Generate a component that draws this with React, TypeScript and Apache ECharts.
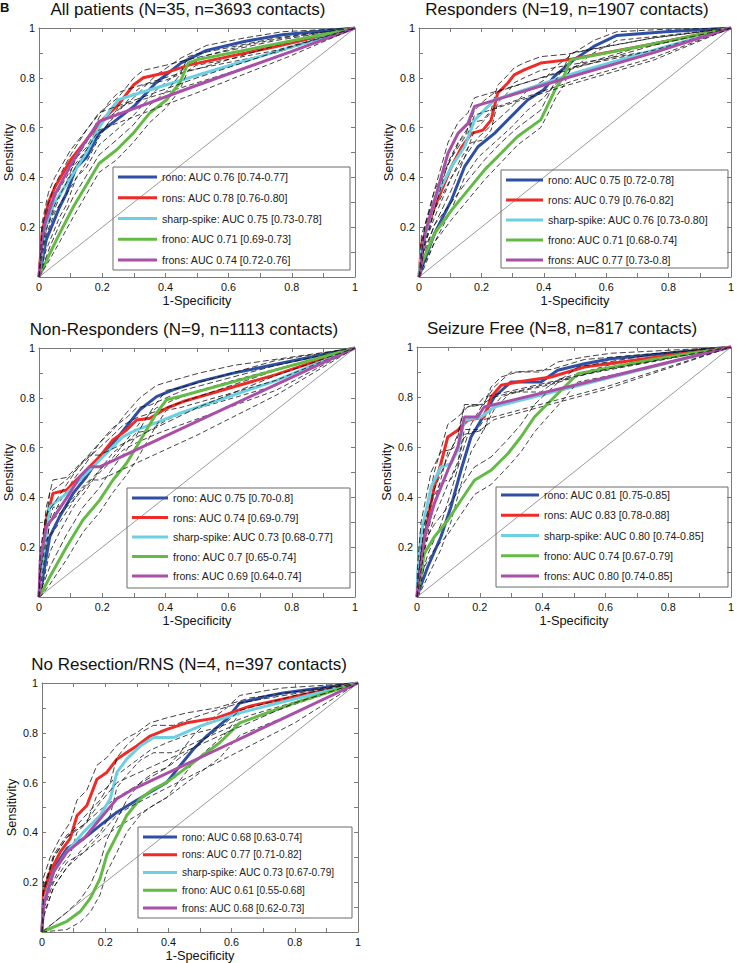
import React, { useEffect, useRef } from "react";
import * as echarts from "echarts";

const FONT = "'Liberation Sans', Arial, Helvetica, sans-serif";

// ---------- labels ----------
const panelTitles = [
  "All patients (N=35, n=3693 contacts)",
  "Responders (N=19, n=1907 contacts)",
  "Non-Responders (N=9, n=1113 contacts)",
  "Seizure Free (N=8, n=817 contacts)",
  "No Resection/RNS (N=4, n=397 contacts)",
];
const curveNames = ["rono", "rons", "sharp-spike", "frono", "frons"];
const curveColors = ["#2e4fa3", "#ee2b27", "#6dcfe2", "#63bb46", "#a94fa7"];

const aucAll = ["AUC 0.76 [0.74-0.77]", "AUC 0.78 [0.76-0.80]", "AUC 0.75 [0.73-0.78]", "AUC 0.71 [0.69-0.73]", "AUC 0.74 [0.72-0.76]"];
const aucResp = ["AUC 0.75 [0.72-0.78]", "AUC 0.79 [0.76-0.82]", "AUC 0.76 [0.73-0.80]", "AUC 0.71 [0.68-0.74]", "AUC 0.77 [0.73-0.8]"];
const aucNonResp = ["AUC 0.75 [0.70-0.8]", "AUC 0.74 [0.69-0.79]", "AUC 0.73 [0.68-0.77]", "AUC 0.7 [0.65-0.74]", "AUC 0.69 [0.64-0.74]"];
const aucSzFree = ["AUC 0.81 [0.75-0.85]", "AUC 0.83 [0.78-0.88]", "AUC 0.80 [0.74-0.85]", "AUC 0.74 [0.67-0.79]", "AUC 0.80 [0.74-0.85]"];
const aucNoRes = ["AUC 0.68 [0.63-0.74]", "AUC 0.77 [0.71-0.82]", "AUC 0.73 [0.67-0.79]", "AUC 0.61 [0.55-0.68]", "AUC 0.68 [0.62-0.73]"];

const chanceLine = [[0, 0], [1, 1]];

// ---------- ROC data: [1-specificity, sensitivity, lower CI, upper CI] ----------
type Pt = [number, number, number, number];

// All patients
const allRono: Pt[] = [[0,0,0,0],[0.023,0.15,0.11,0.19],[0.065,0.28,0.24,0.32],[0.087,0.336,0.29,0.38],[0.118,0.44,0.40,0.48],[0.15,0.48,0.44,0.52],[0.19,0.577,0.53,0.61],[0.30,0.685,0.65,0.72],[0.37,0.78,0.75,0.81],[0.45,0.86,0.83,0.88],[0.53,0.91,0.89,0.93],[0.65,0.946,0.93,0.96],[0.77,0.973,0.96,0.985],[1,1,1,1]];
const allRons: Pt[] = [[0,0,0,0],[0.01,0.18,0.14,0.22],[0.03,0.30,0.26,0.34],[0.05,0.36,0.32,0.40],[0.10,0.47,0.43,0.51],[0.15,0.55,0.51,0.59],[0.20,0.63,0.59,0.67],[0.25,0.69,0.66,0.72],[0.30,0.772,0.74,0.80],[0.33,0.80,0.77,0.83],[0.40,0.82,0.79,0.85],[0.477,0.852,0.83,0.875],[0.75,0.926,0.90,0.95],[1,1,1,1]];
const allSharp: Pt[] = [[0,0,0,0],[0.02,0.2,0.16,0.24],[0.05,0.3,0.26,0.34],[0.10,0.40,0.36,0.44],[0.15,0.50,0.46,0.54],[0.19,0.60,0.56,0.64],[0.22,0.66,0.62,0.70],[0.25,0.71,0.68,0.74],[0.27,0.72,0.69,0.75],[0.45,0.79,0.76,0.82],[0.5,0.81,0.78,0.835],[0.75,0.905,0.88,0.93],[1,1,1,1]];
const allFrono: Pt[] = [[0,0,0,0],[0.034,0.094,0.07,0.12],[0.065,0.174,0.14,0.21],[0.108,0.28,0.24,0.32],[0.19,0.456,0.42,0.49],[0.245,0.51,0.47,0.55],[0.298,0.577,0.54,0.61],[0.35,0.658,0.62,0.69],[0.403,0.711,0.68,0.745],[0.445,0.779,0.75,0.81],[0.472,0.859,0.83,0.885],[0.498,0.872,0.85,0.895],[0.75,0.936,0.91,0.96],[1,1,1,1]];
const allFrons: Pt[] = [[0,0,0,0],[0.01,0.15,0.11,0.19],[0.02,0.22,0.18,0.26],[0.05,0.33,0.29,0.37],[0.10,0.45,0.41,0.49],[0.15,0.55,0.51,0.59],[0.19,0.625,0.59,0.66],[0.5,0.77,0.74,0.80],[0.8,0.906,0.89,0.925],[1,1,1,1]];

// Responders
const respRono: Pt[] = [[0,0,0,0],[0.014,0.054,0.03,0.08],[0.05,0.175,0.14,0.21],[0.104,0.309,0.27,0.35],[0.146,0.443,0.40,0.48],[0.189,0.523,0.48,0.56],[0.242,0.577,0.54,0.62],[0.295,0.644,0.60,0.68],[0.348,0.711,0.67,0.75],[0.40,0.752,0.72,0.79],[0.433,0.805,0.77,0.84],[0.496,0.872,0.84,0.90],[0.56,0.926,0.90,0.95],[0.634,0.97,0.95,0.985],[0.79,0.985,0.97,0.995],[1,1,1,1]];
const respRons: Pt[] = [[0,0,0,0],[0.008,0.134,0.10,0.17],[0.05,0.28,0.24,0.32],[0.104,0.443,0.40,0.48],[0.136,0.52,0.48,0.56],[0.168,0.577,0.54,0.62],[0.205,0.59,0.55,0.63],[0.231,0.63,0.59,0.67],[0.252,0.738,0.70,0.77],[0.284,0.778,0.74,0.81],[0.305,0.812,0.78,0.84],[0.337,0.832,0.80,0.86],[0.39,0.859,0.83,0.885],[0.475,0.872,0.85,0.895],[0.75,0.936,0.91,0.96],[1,1,1,1]];
const respSharp: Pt[] = [[0,0,0,0],[0.008,0.107,0.07,0.14],[0.05,0.309,0.27,0.35],[0.104,0.443,0.40,0.48],[0.146,0.523,0.48,0.56],[0.178,0.63,0.59,0.67],[0.21,0.671,0.63,0.71],[0.242,0.711,0.68,0.74],[0.5,0.82,0.79,0.845],[0.75,0.91,0.88,0.94],[1,1,1,1]];
const respFrono: Pt[] = [[0,0,0,0],[0.008,0.054,0.03,0.08],[0.05,0.175,0.14,0.21],[0.104,0.268,0.23,0.30],[0.157,0.349,0.31,0.39],[0.21,0.43,0.39,0.47],[0.263,0.497,0.46,0.54],[0.316,0.564,0.53,0.60],[0.39,0.631,0.60,0.67],[0.411,0.685,0.65,0.72],[0.438,0.758,0.72,0.79],[0.464,0.805,0.77,0.84],[0.486,0.872,0.84,0.90],[0.75,0.936,0.91,0.96],[1,1,1,1]];
const respFrons: Pt[] = [[0,0,0,0],[0.003,0.013,0.005,0.03],[0.019,0.175,0.14,0.21],[0.05,0.309,0.27,0.35],[0.093,0.497,0.46,0.54],[0.125,0.577,0.54,0.62],[0.157,0.617,0.58,0.66],[0.178,0.685,0.65,0.72],[0.475,0.80,0.77,0.83],[0.75,0.90,0.87,0.93],[1,1,1,1]];

// Non-responders
const nonRono: Pt[] = [[0,0,0,0],[0.007,0.04,0.02,0.07],[0.034,0.242,0.18,0.30],[0.065,0.322,0.26,0.38],[0.108,0.416,0.36,0.47],[0.15,0.483,0.43,0.54],[0.192,0.564,0.51,0.62],[0.234,0.617,0.56,0.67],[0.277,0.685,0.63,0.74],[0.319,0.752,0.70,0.80],[0.372,0.805,0.76,0.85],[0.424,0.832,0.79,0.87],[0.509,0.866,0.83,0.90],[0.615,0.899,0.87,0.93],[1,1,1,1]];
const nonRons: Pt[] = [[0,0,0,0],[0.007,0.134,0.09,0.18],[0.023,0.309,0.25,0.36],[0.044,0.416,0.36,0.47],[0.087,0.43,0.37,0.48],[0.118,0.47,0.41,0.52],[0.15,0.51,0.45,0.56],[0.192,0.564,0.51,0.62],[0.234,0.631,0.58,0.68],[0.277,0.671,0.62,0.72],[0.309,0.711,0.66,0.76],[0.351,0.718,0.67,0.77],[0.403,0.758,0.71,0.80],[0.456,0.785,0.74,0.83],[0.75,0.893,0.85,0.93],[1,1,1,1]];
const nonSharp: Pt[] = [[0,0,0,0],[0.007,0.094,0.06,0.13],[0.034,0.362,0.30,0.42],[0.087,0.416,0.36,0.47],[0.139,0.483,0.43,0.54],[0.192,0.55,0.50,0.60],[0.234,0.604,0.55,0.65],[0.266,0.644,0.59,0.69],[0.309,0.671,0.62,0.72],[0.382,0.705,0.66,0.75],[0.446,0.738,0.69,0.78],[0.75,0.869,0.83,0.91],[1,1,1,1]];
const nonFrono: Pt[] = [[0,0,0,0],[0.007,0.013,0.005,0.03],[0.034,0.08,0.05,0.12],[0.087,0.201,0.15,0.25],[0.139,0.309,0.26,0.36],[0.192,0.389,0.34,0.44],[0.234,0.47,0.42,0.52],[0.277,0.537,0.49,0.59],[0.309,0.604,0.55,0.65],[0.34,0.671,0.62,0.72],[0.372,0.738,0.69,0.78],[0.403,0.792,0.75,0.83],[0.446,0.805,0.76,0.84],[0.75,0.912,0.87,0.95],[1,1,1,1]];
const nonFrons: Pt[] = [[0,0,0,0],[0.004,0.148,0.10,0.19],[0.023,0.282,0.23,0.33],[0.055,0.336,0.28,0.39],[0.097,0.416,0.36,0.47],[0.129,0.483,0.43,0.53],[0.16,0.523,0.47,0.57],[0.192,0.523,0.47,0.57],[0.5,0.705,0.65,0.76],[0.75,0.853,0.81,0.89],[1,1,1,1]];

// Seizure free
const sfRono: Pt[] = [[0,0,0,0],[0.007,0.027,0.01,0.05],[0.034,0.12,0.08,0.17],[0.076,0.24,0.19,0.29],[0.108,0.36,0.30,0.42],[0.14,0.507,0.45,0.56],[0.172,0.64,0.58,0.69],[0.204,0.707,0.65,0.76],[0.246,0.80,0.75,0.84],[0.299,0.86,0.82,0.90],[0.395,0.86,0.82,0.90],[0.448,0.907,0.87,0.94],[0.533,0.933,0.90,0.96],[0.618,0.953,0.93,0.975],[1,1,1,1]];
const sfRons: Pt[] = [[0,0,0,0],[0.013,0.147,0.10,0.19],[0.034,0.307,0.25,0.36],[0.055,0.44,0.38,0.50],[0.076,0.533,0.47,0.59],[0.098,0.64,0.58,0.69],[0.13,0.667,0.61,0.72],[0.161,0.707,0.65,0.76],[0.214,0.72,0.67,0.77],[0.236,0.80,0.75,0.84],[0.268,0.847,0.80,0.88],[0.32,0.86,0.82,0.90],[0.427,0.88,0.85,0.91],[0.533,0.92,0.89,0.95],[1,1,1,1]];
const sfSharp: Pt[] = [[0,0,0,0],[0.002,0.093,0.06,0.13],[0.013,0.253,0.20,0.30],[0.045,0.44,0.38,0.50],[0.076,0.52,0.46,0.58],[0.108,0.533,0.47,0.59],[0.13,0.587,0.53,0.64],[0.151,0.707,0.65,0.76],[0.204,0.72,0.67,0.77],[0.246,0.76,0.71,0.80],[0.6,0.873,0.83,0.91],[1,1,1,1]];
const sfFrono: Pt[] = [[0,0,0,0],[0.007,0.04,0.02,0.07],[0.023,0.173,0.12,0.22],[0.055,0.24,0.19,0.29],[0.098,0.307,0.25,0.36],[0.14,0.387,0.33,0.44],[0.183,0.467,0.41,0.52],[0.236,0.507,0.45,0.56],[0.289,0.573,0.52,0.63],[0.331,0.64,0.58,0.69],[0.374,0.72,0.66,0.77],[0.416,0.773,0.72,0.82],[0.459,0.827,0.78,0.87],[0.512,0.893,0.86,0.92],[0.75,0.95,0.92,0.97],[1,1,1,1]];
const sfFrons: Pt[] = [[0,0,0,0],[0.002,0.027,0.01,0.05],[0.023,0.24,0.19,0.29],[0.055,0.373,0.32,0.43],[0.098,0.507,0.45,0.56],[0.13,0.60,0.54,0.65],[0.151,0.72,0.67,0.77],[0.193,0.72,0.67,0.77],[0.214,0.76,0.71,0.80],[0.6,0.877,0.84,0.91],[1,1,1,1]];

// No resection / RNS
const nrRono: Pt[] = [[0,0,0,0],[0.005,0.136,0.09,0.18],[0.037,0.255,0.20,0.31],[0.079,0.335,0.28,0.39],[0.132,0.375,0.32,0.43],[0.184,0.428,0.37,0.49],[0.237,0.481,0.42,0.54],[0.289,0.521,0.46,0.58],[0.342,0.561,0.50,0.62],[0.395,0.601,0.54,0.66],[0.437,0.668,0.61,0.72],[0.479,0.734,0.68,0.79],[0.521,0.787,0.73,0.84],[0.584,0.854,0.80,0.90],[0.626,0.92,0.88,0.95],[0.711,0.947,0.91,0.97],[0.763,0.96,0.93,0.98],[1,1,1,1]];
const nrRons: Pt[] = [[0,0,0,0],[0.005,0.162,0.10,0.22],[0.026,0.242,0.18,0.30],[0.058,0.322,0.26,0.38],[0.089,0.375,0.31,0.44],[0.111,0.468,0.40,0.53],[0.142,0.508,0.44,0.57],[0.174,0.614,0.55,0.67],[0.205,0.641,0.58,0.70],[0.237,0.694,0.63,0.75],[0.268,0.721,0.66,0.78],[0.30,0.747,0.69,0.80],[0.342,0.787,0.73,0.84],[0.395,0.814,0.76,0.86],[0.458,0.84,0.79,0.88],[0.553,0.86,0.82,0.90],[0.658,0.907,0.87,0.94],[1,1,1,1]];
const nrSharp: Pt[] = [[0,0,0,0],[0.005,0.122,0.07,0.17],[0.037,0.242,0.18,0.30],[0.079,0.322,0.26,0.38],[0.132,0.402,0.34,0.46],[0.184,0.468,0.40,0.53],[0.216,0.535,0.47,0.60],[0.237,0.641,0.58,0.70],[0.268,0.694,0.63,0.75],[0.311,0.747,0.69,0.80],[0.353,0.781,0.72,0.83],[0.416,0.781,0.72,0.83],[0.50,0.827,0.77,0.87],[0.626,0.88,0.84,0.92],[1,1,1,1]];
const nrFrono: Pt[] = [[0,0,0,0],[0.079,0.043,0.01,0.08],[0.121,0.082,0.04,0.13],[0.153,0.136,0.08,0.19],[0.184,0.215,0.15,0.28],[0.205,0.309,0.24,0.37],[0.237,0.388,0.32,0.45],[0.268,0.468,0.40,0.53],[0.311,0.535,0.47,0.60],[0.353,0.574,0.51,0.64],[0.395,0.601,0.54,0.66],[0.437,0.641,0.58,0.70],[0.479,0.681,0.62,0.74],[0.521,0.721,0.66,0.78],[0.563,0.761,0.70,0.82],[0.626,0.84,0.79,0.89],[0.8,0.92,0.88,0.95],[1,1,1,1]];
const nrFrons: Pt[] = [[0,0,0,0],[0.005,0.109,0.06,0.16],[0.037,0.242,0.18,0.30],[0.079,0.322,0.26,0.38],[0.132,0.375,0.32,0.43],[0.184,0.455,0.39,0.52],[0.237,0.535,0.47,0.60],[0.289,0.574,0.51,0.63],[0.6,0.76,0.71,0.81],[0.8,0.88,0.84,0.92],[1,1,1,1]];

const panelCurves: Pt[][][] = [
  [allRono, allRons, allSharp, allFrono, allFrons],
  [respRono, respRons, respSharp, respFrono, respFrons],
  [nonRono, nonRons, nonSharp, nonFrono, nonFrons],
  [sfRono, sfRons, sfSharp, sfFrono, sfFrons],
  [nrRono, nrRons, nrSharp, nrFrono, nrFrons],
];
const panelAuc = [aucAll, aucResp, aucNonResp, aucSzFree, aucNoRes];

// ---------- layout (pixels) ----------
const layout = [
  { left: 39, top: 28, width: 316, height: 249, titleX: 188, titleY: 9, box: [113, 167, 237, 103], legLeft: 118, legTop: 171, legGap: 8.75, icon: 39, fs: 10.6 },
  { left: 419, top: 28, width: 314, height: 249, titleX: 567, titleY: 9, box: [501, 170, 227, 98], legLeft: 506, legTop: 174, legGap: 8, icon: 37, fs: 10.6 },
  { left: 39, top: 348, width: 316, height: 249, titleX: 184, titleY: 329, box: [127, 488, 223, 100], legLeft: 132, legTop: 492, legGap: 7.5, icon: 36, fs: 10.6 },
  { left: 417, top: 347, width: 314, height: 250, titleX: 562, titleY: 328, box: [496, 487, 232, 100], legLeft: 501, legTop: 489, legGap: 8.25, icon: 38, fs: 10.6 },
  { left: 42, top: 683, width: 316, height: 251, titleX: 189, titleY: 664.5, box: [138, 827, 214, 91], legLeft: 143, legTop: 831, legGap: 5.75, icon: 34, fs: 10.1 },
];

const AXIS_COLOR = "#7a7a7a";

function tickFmt(hideZero: boolean) {
  return (v: number) => {
    const k = Math.round(v * 10);
    if (k % 2 !== 0) return "";
    if (k === 0) return hideZero ? "" : "0";
    if (k === 10) return "1";
    return (k / 10).toFixed(1);
  };
}

function buildOption() {
  const grid: any[] = [];
  const xAxis: any[] = [];
  const yAxis: any[] = [];
  const series: any[] = [];
  const legend: any[] = [];
  const graphic: any[] = [];

  layout.forEach((L, i) => {
    grid.push({ left: L.left, top: L.top, width: L.width, height: L.height, containLabel: false });
    const base = {
      type: "value",
      gridIndex: i,
      min: 0,
      max: 1,
      interval: 0.1,
      splitLine: { show: false },
      axisLine: { show: true, onZero: false, lineStyle: { color: AXIS_COLOR, width: 1 } },
      axisTick: { show: true, inside: true, length: 4, lineStyle: { color: AXIS_COLOR, width: 1 } },
    };
    xAxis.push({
      ...base,
      position: "bottom",
      name: "1-Specificity",
      nameLocation: "middle",
      nameGap: 17,
      nameTextStyle: { fontFamily: FONT, fontSize: 12.8, color: "#111" },
      axisLabel: { formatter: tickFmt(false), fontFamily: FONT, fontSize: 10.8, color: "#111", margin: 4, showMinLabel: true, showMaxLabel: true },
    });
    xAxis.push({ ...base, position: "top", axisLabel: { show: false } });
    yAxis.push({
      ...base,
      position: "left",
      name: "Sensitivity",
      nameLocation: "middle",
      nameGap: 24,
      nameTextStyle: { fontFamily: FONT, fontSize: 12.8, color: "#111" },
      axisLabel: { formatter: tickFmt(true), fontFamily: FONT, fontSize: 10.8, color: "#111", margin: 4, showMinLabel: true, showMaxLabel: true },
    });
    yAxis.push({ ...base, position: "right", axisLabel: { show: false } });

    const xi = 2 * i;
    series.push({
      type: "line",
      name: "chance" + i,
      xAxisIndex: xi,
      yAxisIndex: xi,
      data: chanceLine,
      showSymbol: false,
      silent: true,
      lineStyle: { color: "#555", width: 0.6 },
      z: 2,
    });

    const names: string[] = [];
    panelCurves[i].forEach((pts, j) => {
      const nm = `${curveNames[j]}: ${panelAuc[i][j]}`;
      names.push(nm);
      series.push({
        type: "line",
        name: nm,
        xAxisIndex: xi,
        yAxisIndex: xi,
        data: pts.map((p) => [p[0], p[1]]),
        showSymbol: false,
        color: curveColors[j],
        lineStyle: { color: curveColors[j], width: 3 },
        z: 2,
      });
      series.push({
        type: "line",
        name: `ci-lo-${i}-${j}`,
        xAxisIndex: xi,
        yAxisIndex: xi,
        data: pts.map((p) => [p[0], p[2]]),
        showSymbol: false,
        silent: true,
        lineStyle: { color: "#111", width: 0.8, type: [5, 3] },
        z: 2,
      });
      series.push({
        type: "line",
        name: `ci-hi-${i}-${j}`,
        xAxisIndex: xi,
        yAxisIndex: xi,
        data: pts.map((p) => [p[0], p[3]]),
        showSymbol: false,
        silent: true,
        lineStyle: { color: "#111", width: 0.8, type: [6, 3] },
        z: 2,
      });
    });

    legend.push({
      data: names,
      left: L.legLeft,
      top: L.legTop,
      orient: "vertical",
      icon: "rect",
      itemWidth: L.icon,
      itemHeight: 3.2,
      itemGap: L.legGap,
      padding: 0,
      selectedMode: false,
      textStyle: { fontFamily: FONT, fontSize: L.fs, color: "#222", lineHeight: 12 },
    });

    graphic.push({
      type: "rect",
      shape: { x: L.box[0], y: L.box[1], width: L.box[2], height: L.box[3] },
      style: { fill: "none", stroke: "#6a6a6a", lineWidth: 1 },
      silent: true,
      z: 10,
    });
    graphic.push({
      type: "text",
      x: L.titleX,
      y: L.titleY,
      style: { text: panelTitles[i], fontFamily: FONT, fontSize: 17, fill: "#111", align: "center", verticalAlign: "middle" },
      silent: true,
    });
  });

  graphic.push({
    type: "text",
    x: 0,
    y: 1,
    style: { text: "B", fontFamily: FONT, fontSize: 13, fontWeight: "bold", fill: "#111", align: "left", verticalAlign: "top" },
    silent: true,
  });

  return {
    animation: false,
    backgroundColor: "#ffffff",
    grid,
    xAxis,
    yAxis,
    series,
    legend,
    graphic,
  };
}

export default function App() {
  const ref = useRef<HTMLDivElement | null>(null);
  useEffect(() => {
    if (!ref.current) return;
    const chart = echarts.init(ref.current, undefined, { renderer: "svg" });
    chart.setOption(buildOption() as any);
    return () => chart.dispose();
  }, []);
  return (
    <div
      ref={ref}
      style={{ position: "absolute", left: 0, top: 0, width: 737, height: 963, background: "#fff" }}
    />
  );
}
